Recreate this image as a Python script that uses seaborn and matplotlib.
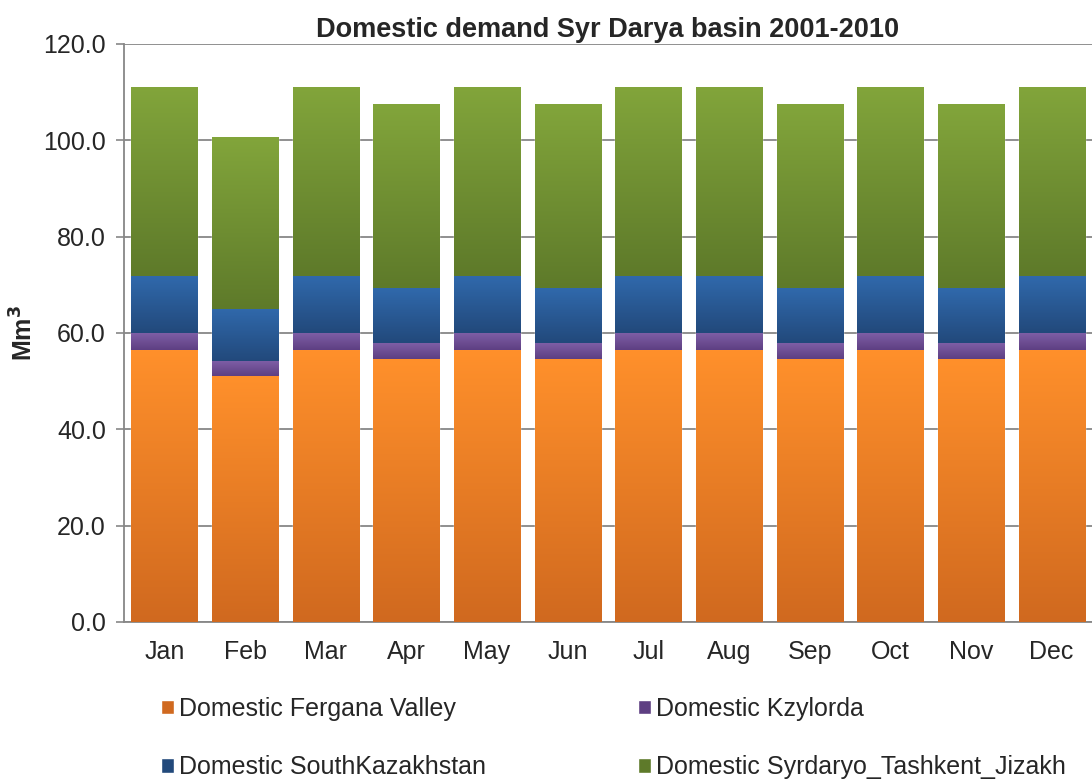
import matplotlib
matplotlib.use('Agg')
import matplotlib.pyplot as plt
import matplotlib.colors as mcolors
from matplotlib.patches import Patch
from matplotlib.ticker import FormatStrFormatter
import seaborn as sns
import numpy as np
import pandas as pd

months = ['Jan', 'Feb', 'Mar', 'Apr', 'May', 'Jun', 'Jul', 'Aug', 'Sep', 'Oct', 'Nov', 'Dec']
fergana = [56.4, 51.0, 56.4, 54.6, 56.4, 54.6, 56.4, 56.4, 54.6, 56.4, 54.6, 56.4]
kzylorda = [3.6, 3.2, 3.6, 3.4, 3.6, 3.4, 3.6, 3.6, 3.4, 3.6, 3.4, 3.6]
south_kaz = [11.8, 10.8, 11.8, 11.4, 11.8, 11.4, 11.8, 11.8, 11.4, 11.8, 11.4, 11.8]
syrdaryo = [39.3, 35.7, 39.3, 38.2, 39.3, 38.2, 39.3, 39.3, 38.2, 39.3, 38.2, 39.3]

series = ['Domestic Fergana Valley', 'Domestic Kzylorda',
          'Domestic SouthKazakhstan', 'Domestic Syrdaryo_Tashkent_Jizakh']
values = [fergana, kzylorda, south_kaz, syrdaryo]
# (top colour, bottom colour) for the gradient of each segment
grads = [('#FF902B', '#D0691F'), ('#8060A8', '#5E3F82'),
         ('#3069AC', '#22497B'), ('#82A53B', '#5E7A2A')]

df = pd.DataFrame({'Month': months})
for name, v in zip(series, values):
    df[name] = v

sns.set_style('white')
plt.rcParams['font.family'] = ['Liberation Sans', 'DejaVu Sans']

fig = plt.figure(figsize=(10.92, 7.8), dpi=100)
ax = fig.add_axes([0.1136, 0.2026, 0.8864, 0.741])

bottom = np.zeros(len(months))
for name, (ctop, cbot) in zip(series, grads):
    n0 = len(ax.patches)
    sns.barplot(data=df, x='Month', y=name, bottom=bottom, color=ctop,
                width=0.82, saturation=1, ax=ax, zorder=2)
    cmap = mcolors.LinearSegmentedColormap.from_list(name, [cbot, ctop])
    grad = np.linspace(0, 1, 256).reshape(-1, 1)
    for p in ax.patches[n0:]:
        x0, y0 = p.get_x(), p.get_y()
        w, h = p.get_width(), p.get_height()
        im = ax.imshow(grad, cmap=cmap, origin='lower', aspect='auto',
                       extent=(x0, x0 + w, y0, y0 + h), zorder=3)
        im.set_clip_path(p)
    bottom = bottom + df[name].values

ax.set_xlim(-0.5, 11.5)
ax.set_ylim(0, 120)
ax.set_yticks(np.arange(0, 121, 20))
ax.yaxis.set_major_formatter(FormatStrFormatter('%.1f'))
ax.yaxis.grid(True, color='#878787', linewidth=1.3)
ax.set_axisbelow(True)

ax.set_xticks(range(len(months)))
ax.set_xticklabels(months)
ax.set_xticks(np.arange(-0.5, 12, 1), minor=True)
ax.tick_params(axis='x', which='major', length=0, labelsize=18, pad=13)
ax.tick_params(axis='x', which='minor', length=6, width=1.2, color='#878787', direction='out')
ax.tick_params(axis='y', length=6, width=1.2, color='#878787', direction='out',
               labelsize=18, pad=7, left=True)

for s in ['top', 'right']:
    ax.spines[s].set_visible(False)
for s in ['left', 'bottom']:
    ax.spines[s].set_color('#878787')
    ax.spines[s].set_linewidth(1.3)

ax.set_xlabel('')
ax.set_ylabel('Mm$^\\mathbf{3}$', fontsize=18, fontweight='bold', labelpad=4)
ax.set_title('Domestic demand Syr Darya basin 2001-2010', fontsize=19.5,
             fontweight='bold', pad=5)

# matplotlib fills legend columns first, so reorder to get rows like the original
order = [0, 2, 1, 3]
handles = [Patch(facecolor=grads[i][1]) for i in order]
labels = [series[i] for i in order]
fig.legend(handles, labels, loc='lower left', bbox_to_anchor=(0.127, -0.028),
           ncol=2, frameon=False, fontsize=18, handlelength=0.5, handleheight=0.5,
           handletextpad=0.2, columnspacing=6.1, labelspacing=1.38)

fig.savefig('out.png', dpi=100)
